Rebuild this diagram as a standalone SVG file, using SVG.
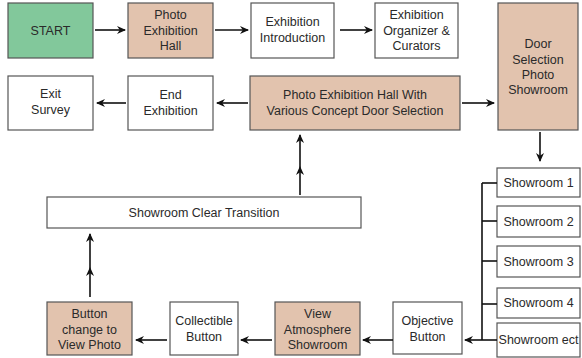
<svg xmlns="http://www.w3.org/2000/svg" width="582" height="358" viewBox="0 0 582 358">
<style>
.b{fill:#fff;stroke:#555;stroke-width:1.2}
.t{fill:#e2c3ae;stroke:#555;stroke-width:1.2}
.g{fill:#82c89b;stroke:#555;stroke-width:1.2}
text{font-family:"Liberation Sans",Arial,sans-serif;font-size:12.5px;fill:#2a2a2a;text-anchor:middle}
.c line,.c path{stroke:#111;stroke-width:1.6;fill:none}
</style>
<defs>
<marker id="a" markerWidth="9" markerHeight="9" refX="8" refY="4.5" orient="auto" markerUnits="userSpaceOnUse">
<path d="M0,0.5 L9,4.5 L0,8.5 L2.8,4.5 Z" fill="#111"/>
</marker>
</defs>
<rect width="582" height="358" fill="#fff"/>
<g id="start"><rect class="g" x="8" y="3" width="85" height="55"/><text x="50.5" y="35">START</text></g>
<g id="hall"><rect class="t" x="128" y="3" width="85" height="55"/><text x="170.5" y="19">Photo</text><text x="170.5" y="34.5">Exhibition</text><text x="170.5" y="50">Hall</text></g>
<g id="intro"><rect class="b" x="251" y="3" width="83" height="55"/><text x="292.5" y="26">Exhibition</text><text x="292.5" y="42">Introduction</text></g>
<g id="organizer"><rect class="b" x="375" y="3" width="83" height="55"/><text x="416.5" y="19">Exhibition</text><text x="416.5" y="34.5">Organizer &amp;</text><text x="416.5" y="50">Curators</text></g>
<g id="door"><rect class="t" x="498" y="3" width="80" height="127"/><text x="538" y="48">Door</text><text x="538" y="64">Selection</text><text x="538" y="79">Photo</text><text x="538" y="94">Showroom</text></g>
<g id="exit"><rect class="b" x="8" y="76" width="85" height="54"/><text x="50.5" y="98">Exit</text><text x="50.5" y="114">Survey</text></g>
<g id="end"><rect class="b" x="128" y="76" width="85" height="54"/><text x="170.5" y="99">End</text><text x="170.5" y="115">Exhibition</text></g>
<g id="hallwith"><rect class="t" x="250" y="76" width="210" height="54"/><text x="355" y="99">Photo Exhibition Hall With</text><text x="355" y="115">Various Concept Door Selection</text></g>
<g id="s1"><rect class="b" x="497" y="168" width="83" height="29"/><text x="538.5" y="187">Showroom 1</text></g>
<g id="s2"><rect class="b" x="497" y="206" width="83" height="31"/><text x="538.5" y="226">Showroom 2</text></g>
<g id="s3"><rect class="b" x="497" y="246" width="83" height="31"/><text x="538.5" y="266">Showroom 3</text></g>
<g id="s4"><rect class="b" x="497" y="288" width="83" height="30"/><text x="538.5" y="307">Showroom 4</text></g>
<g id="sect"><rect class="b" x="497" y="323" width="83" height="34"/><text x="538.5" y="344">Showroom ect</text></g>
<g id="objective"><rect class="b" x="393" y="302" width="69" height="52"/><text x="427.5" y="325">Objective</text><text x="427.5" y="341">Button</text></g>
<g id="view"><rect class="t" x="275" y="302" width="85" height="53"/><text x="317.5" y="318">View</text><text x="317.5" y="333.5">Atmosphere</text><text x="317.5" y="349">Showroom</text></g>
<g id="collectible"><rect class="b" x="170" y="302" width="68" height="53"/><text x="204" y="325">Collectible</text><text x="204" y="341">Button</text></g>
<g id="btnphoto"><rect class="t" x="47" y="302" width="85" height="53"/><text x="89.5" y="318">Button</text><text x="89.5" y="333.5">change to</text><text x="89.5" y="349">View Photo</text></g>
<g id="clear"><rect class="b" x="47" y="197" width="314" height="31"/><text x="204" y="217">Showroom Clear Transition</text></g>
<g class="c" id="connectors">
<line x1="95" y1="30" x2="125" y2="30" marker-end="url(#a)"/>
<line x1="215" y1="30" x2="248" y2="30" marker-end="url(#a)"/>
<line x1="340" y1="30" x2="372" y2="30" marker-end="url(#a)"/>
<line x1="462" y1="103" x2="494" y2="103" marker-end="url(#a)"/>
<line x1="248" y1="103" x2="217" y2="103" marker-end="url(#a)"/>
<line x1="126" y1="103" x2="97" y2="103" marker-end="url(#a)"/>
<line x1="540" y1="132" x2="540" y2="161" marker-end="url(#a)"/>
<line x1="482" y1="183" x2="482" y2="340"/>
<line x1="482" y1="183" x2="497" y2="183"/>
<line x1="482" y1="221" x2="497" y2="221"/>
<line x1="482" y1="261" x2="497" y2="261"/>
<line x1="482" y1="304" x2="497" y2="304"/>
<line x1="482" y1="340" x2="497" y2="340"/>
<line x1="482" y1="340" x2="465" y2="340" marker-end="url(#a)"/>
<line x1="393" y1="340" x2="363" y2="340" marker-end="url(#a)"/>
<line x1="272" y1="340" x2="241" y2="340" marker-end="url(#a)"/>
<line x1="167" y1="340" x2="136" y2="340" marker-end="url(#a)"/>
<line x1="90" y1="297" x2="90" y2="268" marker-end="url(#a)"/>
<line x1="90" y1="268" x2="90" y2="234" marker-end="url(#a)"/>
<line x1="300" y1="195" x2="300" y2="167" marker-end="url(#a)"/>
<line x1="300" y1="167" x2="300" y2="135" marker-end="url(#a)"/>
</g>
</svg>
